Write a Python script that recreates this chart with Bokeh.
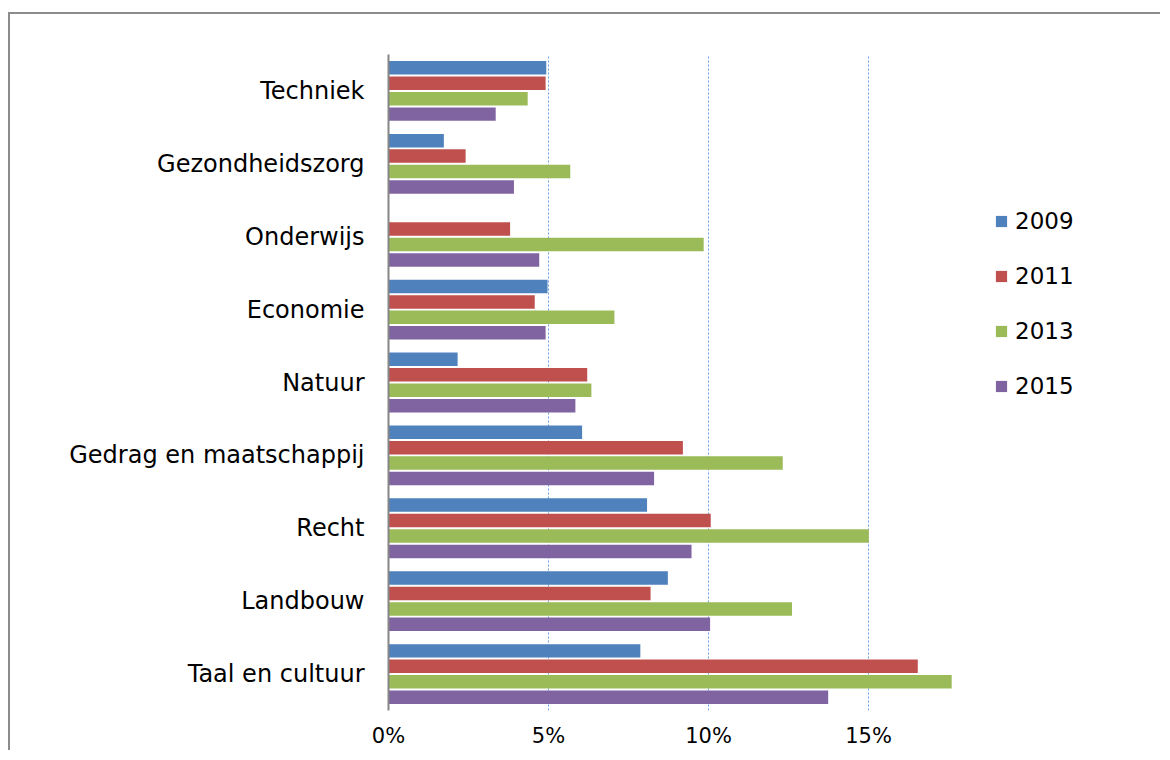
from bokeh.plotting import figure
from bokeh.models import (ColumnDataSource, FactorRange, Range1d, FixedTicker,
                          NumeralTickFormatter, Legend, LegendItem)
from bokeh.transform import dodge
from bokeh.embed import file_html
from bokeh.resources import INLINE

categories = ["Techniek", "Gezondheidszorg", "Onderwijs", "Economie", "Natuur",
              "Gedrag en maatschappij", "Recht", "Landbouw", "Taal en cultuur"]
series_names = ["2009", "2011", "2013", "2015"]
v2009 = [4.93, 1.73, 0.0, 4.97, 2.16, 6.05, 8.08, 8.73, 7.87]
v2011 = [4.91, 2.41, 3.80, 4.57, 6.21, 9.20, 10.07, 8.19, 16.54]
v2013 = [4.35, 5.68, 9.85, 7.06, 6.34, 12.32, 15.01, 12.61, 17.60]
v2015 = [3.35, 3.92, 4.71, 4.91, 5.84, 8.30, 9.47, 10.05, 13.74]
tick_values = [0, 0.05, 0.10, 0.15]

colors = ["#4F81BD", "#C0504D", "#9BBB59", "#8064A2"]
offsets = [0.318, 0.106, -0.106, -0.318]
FONT = "DejaVu Sans"

source = ColumnDataSource(data=dict(
    cat=categories,
    y2009=[v / 100 for v in v2009],
    y2011=[v / 100 for v in v2011],
    y2013=[v / 100 for v in v2013],
    y2015=[v / 100 for v in v2015],
))

p = figure(width=1152, height=738,
           y_range=FactorRange(*reversed(categories), range_padding=0),
           x_range=Range1d(0, (1162 - 388) / 3200),
           output_backend="svg", toolbar_location=None,
           min_border_left=378, min_border_top=40, min_border_bottom=42,
           min_border_right=0)
p.styles = {"border-left": "2px solid #8c8c8c", "border-top": "2px solid #8c8c8c"}
p.margin = (12, 0, 0, 8)
p.outline_line_color = None
p.background_fill_color = "white"
p.border_fill_color = "white"

items = []
for name, col, off in zip(series_names, colors, offsets):
    r = p.hbar(y=dodge("cat", off, range=p.y_range), right="y" + name, left=0,
               height=0.185, source=source, fill_color=col, line_color=None)
    items.append(LegendItem(label=name, renderers=[r]))

# axes
p.xaxis.ticker = FixedTicker(ticks=tick_values)
p.xaxis.formatter = NumeralTickFormatter(format="0%")
p.xaxis.axis_line_color = None
p.xaxis.major_tick_line_color = None
p.xaxis.minor_tick_line_color = None
p.xaxis.major_tick_out = 0
p.xaxis.major_tick_in = 0
p.xaxis.major_label_standoff = 13
p.xaxis.major_label_text_font = FONT
p.xaxis.major_label_text_font_size = "21px"
p.xaxis.major_label_text_color = "black"

p.yaxis.axis_line_color = "#868686"
p.yaxis.axis_line_width = 2
p.yaxis.major_tick_line_color = None
p.yaxis.minor_tick_line_color = None
p.yaxis.major_tick_out = 0
p.yaxis.major_tick_in = 0
p.yaxis.major_label_standoff = 24
p.yaxis.major_label_text_font = FONT
p.yaxis.major_label_text_font_size = "24px"
p.yaxis.major_label_text_color = "black"

p.xgrid.grid_line_color = "#6A9EE6"
p.xgrid.grid_line_dash = "2 2"
p.xgrid.grid_line_width = 1
p.ygrid.grid_line_color = None

legend = Legend(items=items, location=(606, 311), orientation="vertical",
                padding=0, margin=0, spacing=28, glyph_width=14, glyph_height=14,
                label_height=27, label_standoff=7,
                label_text_font=FONT, label_text_font_size="23px",
                label_text_color="black", border_line_color=None,
                background_fill_alpha=0)
p.add_layout(legend)

open("out.html", "w").write(file_html(p, INLINE))
